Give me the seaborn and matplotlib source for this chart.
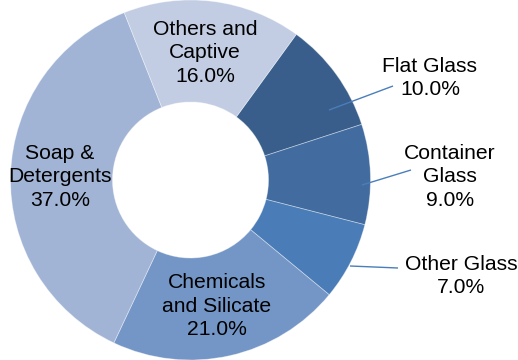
import matplotlib
matplotlib.use("Agg")
import matplotlib.pyplot as plt
import seaborn as sns

# Soda ash consumption by end use (%)
categories = ["Flat Glass", "Container Glass", "Other Glass",
              "Chemicals and Silicate", "Soap & Detergents", "Others and Captive"]
shares = [10.0, 9.0, 7.0, 21.0, 37.0, 16.0]
label_text = ["Flat Glass", "Container\nGlass", "Other Glass",
              "Chemicals\nand Silicate", "Soap &\nDetergents", "Others and\nCaptive"]
slice_colors = ["#395E8B", "#426CA0", "#4A7CB7", "#7396C6", "#A1B4D5", "#C2CDE3"]

sns.set_theme(style="white")
plt.rcParams["font.family"] = ["Liberation Sans", "DejaVu Sans"]

W, H = 518, 360
fig = plt.figure(figsize=(W / 100, H / 100), dpi=100)
ax = fig.add_axes([0, 0, 1, 1])

cx, cy = 190.5, 180.0
R_out, R_in = 180.0, 78.0

palette = sns.color_palette(slice_colors)
ax.pie(shares, colors=palette, startangle=90 - 36, counterclock=False,
       center=(cx, cy), radius=R_out,
       wedgeprops=dict(width=R_out - R_in, edgecolor=(1, 1, 1, 0.4), linewidth=0.6))

ax.set_xlim(0, W)
ax.set_ylim(0, H)
ax.set_aspect("equal")
ax.axis("off")

# label anchor (pixel coords from top-left) and optional leader line
label_pos = [(430, 78), (450, 177), (461, 276), (217, 306), (60, 177), (205, 53)]
leaders = {0: ((329, 110), (393, 86)),
           1: ((362, 185), (411, 170)),
           2: ((350, 266), (398, 268))}

fs = 15.2
for i, (name, val) in enumerate(zip(label_text, shares)):
    x, y = label_pos[i]
    ax.text(x, H - y, f"{name}\n{val:.1f}%", ha="center", va="center",
            fontsize=fs, color="#000000", linespacing=1.3)
    if i in leaders:
        (x0, y0), (x1, y1) = leaders[i]
        ax.plot([x0, x1], [H - y0, H - y1], color="#4A7EBB", lw=1.0,
                solid_capstyle="butt")

fig.savefig("out.png", dpi=100)
